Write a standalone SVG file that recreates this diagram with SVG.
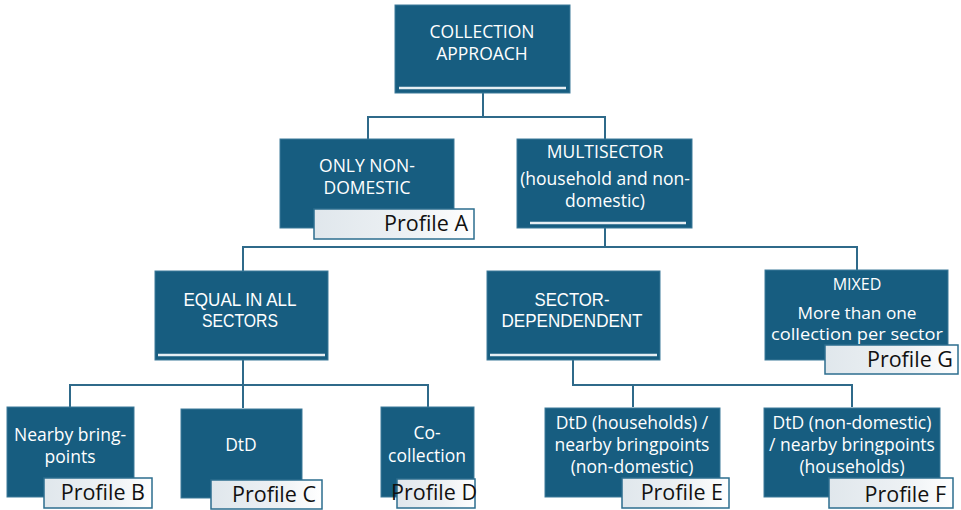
<svg xmlns="http://www.w3.org/2000/svg" width="961" height="510" viewBox="0 0 961 510">
<defs>
<linearGradient id="lg" x1="0" y1="0" x2="1" y2="0">
<stop offset="0" stop-color="#e0e7ec"/>
<stop offset="0.6" stop-color="#edf1f4"/>
<stop offset="1" stop-color="#ffffff"/>
</linearGradient>
</defs>
<style>
.box{fill:#175d80;stroke:#3d7a99;stroke-width:1}
.bar{stroke:#e6eef3;stroke-width:2.5}
.t{fill:#ffffff;font-family:"Open Sans","Liberation Sans",Arial,sans-serif;font-size:17.5px;text-anchor:middle}
.tm{fill:#ffffff;font-family:"Open Sans","Liberation Sans",Arial,sans-serif;font-size:16px;text-anchor:middle}
.tc{fill:#ffffff;font-family:"Liberation Sans",Arial,sans-serif;font-size:18px;text-anchor:middle}
.lab{fill:url(#lg);stroke:#2c6e8f;stroke-width:1.5}
.pt{fill:#111;font-family:"Open Sans","Liberation Sans",Arial,sans-serif;font-size:21.5px;text-anchor:end}
.c{fill:none;stroke:#2f6a8a;stroke-width:2}
</style>
<rect width="961" height="510" fill="#ffffff"/>
<g id="connectors">
<path class="c" d="M483 93V117M368 139V117H605V139"/>
<path class="c" d="M605 228V247M243 271V247H857V270"/>
<path class="c" d="M243 360V408M70 407V385H428V407"/>
<path class="c" d="M573 360V385H852V407M633 385V407"/>
</g>
<g id="n-root">
<rect class="box" x="395" y="5" width="175" height="88"/>
<line class="bar" x1="399" y1="88" x2="566" y2="88"/>
<text class="t" x="482" y="38">COLLECTION</text>
<text class="t" x="482" y="60">APPROACH</text>
</g>
<g id="n-nondomestic">
<rect class="box" x="280" y="139" width="174" height="89"/>
<text class="t" x="367" y="172">ONLY NON-</text>
<text class="t" x="367" y="194">DOMESTIC</text>
<rect class="lab" x="314" y="209" width="160" height="30"/>
<text class="pt" x="468" y="231">Profile A</text>
</g>
<g id="n-multisector">
<rect class="box" x="517" y="139" width="175" height="89"/>
<line class="bar" x1="530" y1="223" x2="686" y2="223"/>
<text class="t" x="605" y="158">MULTISECTOR</text>
<text class="t" x="605" y="185">(household and non-</text>
<text class="t" x="605" y="207">domestic)</text>
</g>
<g id="n-equal">
<rect class="box" x="155" y="271" width="173" height="89"/>
<line class="bar" x1="158" y1="355" x2="325" y2="355"/>
<text class="tc" x="240" y="306" textLength="113" lengthAdjust="spacingAndGlyphs">EQUAL IN ALL</text>
<text class="tc" x="240" y="327" textLength="76" lengthAdjust="spacingAndGlyphs">SECTORS</text>
</g>
<g id="n-sectordep">
<rect class="box" x="487" y="271" width="173" height="89"/>
<line class="bar" x1="490" y1="355" x2="657" y2="355"/>
<text class="tc" x="572" y="306" textLength="75" lengthAdjust="spacingAndGlyphs">SECTOR-</text>
<text class="tc" x="572" y="327" textLength="141" lengthAdjust="spacingAndGlyphs">DEPENDENDENT</text>
</g>
<g id="n-mixed">
<rect class="box" x="765" y="270" width="183" height="90"/>
<text class="tm" x="857" y="290">MIXED</text>
<text class="tm" x="857" y="319" textLength="119" lengthAdjust="spacingAndGlyphs">More than one</text>
<text class="tm" x="857" y="340" textLength="172" lengthAdjust="spacingAndGlyphs">collection per sector</text>
<rect class="lab" x="825" y="345" width="133" height="29"/>
<text class="pt" x="953" y="367">Profile G</text>
</g>
<g id="n-nearby">
<rect class="box" x="7" y="407" width="127" height="90"/>
<text class="t" x="70" y="441">Nearby bring-</text>
<text class="t" x="70" y="463">points</text>
<rect class="lab" x="44" y="478" width="108" height="30"/>
<text class="pt" x="145" y="500">Profile B</text>
</g>
<g id="n-dtd">
<rect class="box" x="181" y="409" width="121" height="89"/>
<text class="t" x="241" y="451">DtD</text>
<rect class="lab" x="211" y="480" width="111" height="29"/>
<text class="pt" x="316" y="502">Profile C</text>
</g>
<g id="n-co">
<rect class="box" x="381" y="407" width="93" height="90"/>
<text class="t" x="427" y="439">Co-</text>
<text class="t" x="427" y="462">collection</text>
<rect class="lab" x="397" y="479" width="78" height="29"/>
<text class="pt" x="477" y="500">Profile D</text>
</g>
<g id="n-dtdhh">
<rect class="box" x="545" y="408" width="175" height="89"/>
<text class="t" x="632" y="429">DtD (households) /</text>
<text class="t" x="632" y="451">nearby bringpoints</text>
<text class="t" x="632" y="473">(non-domestic)</text>
<rect class="lab" x="622" y="478" width="107" height="30"/>
<text class="pt" x="723" y="500">Profile E</text>
</g>
<g id="n-dtdnd">
<rect class="box" x="764" y="408" width="176" height="89"/>
<text class="t" x="852" y="429">DtD (non-domestic)</text>
<text class="t" x="852" y="451">/ nearby bringpoints</text>
<text class="t" x="852" y="473">(households)</text>
<rect class="lab" x="829" y="478" width="124" height="30"/>
<text class="pt" x="946" y="502">Profile F</text>
</g>
</svg>
